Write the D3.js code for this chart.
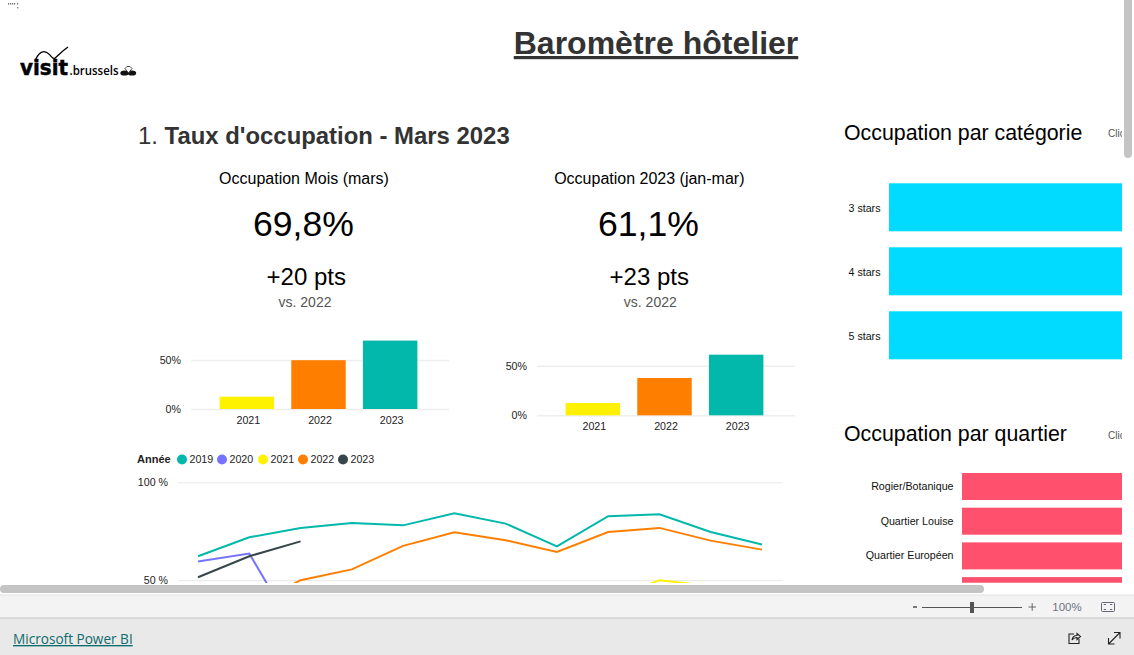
<!DOCTYPE html>
<html lang="fr">
<head>
<meta charset="utf-8">
<title>Baromètre hôtelier</title>
<script src="https://cdn.jsdelivr.net/npm/d3@7/dist/d3.min.js"></script>
<style>
html,body{margin:0;padding:0;background:#fff;overflow:hidden;width:1134px;height:655px}
svg{display:block}
text{font-family:"Liberation Sans",Arial,sans-serif;fill:#000}
.domain{display:none}
</style>
</head>
<body>
<svg id="c" width="1134" height="655" viewBox="0 0 1134 655"></svg>
<script>
const months = ["janv","févr","mars","avr","mai","juin","juil","août","sept","oct","nov","déc"];
const years = ["2019","2020","2021","2022","2023"];
const yearColors = ["#01b8aa","#7673ff","#fff200","#fe7f00","#374649"];
const occ2019 = [62.2,71.9,76.7,79.2,78,84.2,78.9,67.3,82.7,83.7,74.6,68.2];
const occ2020 = [59.5,63.6,19,2,3,8,17,21,24,14,7,13];
const occ2021 = [10,11,13,11,15,24,27,27,40,50,47,35];
const occ2022 = [28,36,50,55.5,67.5,74.5,70.4,64.4,74.6,76.7,70.2,65.6];
const occ2023 = [51.5,62.2,69.8];
const barYears = ["2021","2022","2023"];
const barColors = ["#fff200","#fe7f00","#01b8aa"];
const monthBars = [12.6,49.8,69.8];
const ytdBars = [12.4,37.6,61.1];
const starCats = ["3 stars","4 stars","5 stars"];
const starVals = [66,72,70];
const quartiers = ["Rogier/Botanique","Quartier Louise","Quartier Européen","Centre"];
const quartierVals = [74,72,71,70];

const svg = d3.select("#c");
const defs = svg.append("defs");
defs.append("clipPath").attr("id","clipMain").append("rect").attr("width",1134).attr("height",585);
defs.append("clipPath").attr("id","clipLine").append("rect").attr("width",1134).attr("height",583);
defs.append("clipPath").attr("id","clipRight").append("rect").attr("x",834).attr("width",288).attr("height",582.7);

function txt(g,x,y,s,size,opts={}){
  return g.append("text").attr("x",x).attr("y",y).attr("font-size",size)
    .attr("text-anchor",opts.anchor||"start").attr("font-weight",opts.weight||"normal")
    .style("fill",opts.fill||"#000").attr("text-decoration",opts.deco||null).text(s);
}

const main = svg.append("g").attr("clip-path","url(#clipMain)");

// tiny header specks
main.append("g").attr("fill","#777").selectAll("rect").data([8,10,12,14,17]).join("rect")
  .attr("x",d=>d).attr("y",3).attr("width",1.2).attr("height",1.6);
main.append("rect").attr("x",17).attr("y",7).attr("width",1.4).attr("height",1.4).attr("fill","#888");

// logo
const logo = main.append("g");
txt(logo,20,75,"visit",21,{weight:"bold"}).style("font-family",'"DejaVu Sans"').attr("textLength",48).attr("lengthAdjust","spacingAndGlyphs").style("stroke","#000").style("stroke-width",0.5);
txt(logo,69.5,75,".brussels",12,{weight:600}).style("font-family",'"Open Sans"').attr("textLength",49).attr("lengthAdjust","spacingAndGlyphs");
logo.append("path").attr("d",d3.line().curve(d3.curveBasis)([[35,61],[38,54],[45,50],[52,57],[54,60],[60,53],[68,47]]))
  .attr("fill","none").attr("stroke","#000").attr("stroke-width",1.3);
logo.append("g").attr("fill","#111").selectAll("ellipse").data([[124.5,73,4.2],[132,73,4.2]]).join("ellipse")
  .attr("cx",d=>d[0]).attr("cy",d=>d[1]).attr("rx",d=>d[2]).attr("ry",2.6);
logo.append("path").attr("d","M125 68.5L127 66.5H130L132 68.5L128.5 73Z").attr("fill","#fff").attr("stroke","#333").attr("stroke-width",0.9);

// titles
txt(main,656,54,"Baromètre hôtelier",32,{anchor:"middle",weight:"bold",fill:"#333",deco:"underline"});
const sec = main.append("text").attr("x",138).attr("y",144).attr("font-size",23.9).style("fill","#333");
sec.append("tspan").text("1. ");
sec.append("tspan").attr("font-weight","bold").text("Taux d'occupation - Mars 2023");

// KPI cards
const cards = [
  {cx:304,vx:303.5,dx:306.3,title:"Occupation Mois (mars)",val:"69,8%",delta:"+20 pts"},
  {cx:649.3,vx:648.5,dx:649.3,title:"Occupation 2023 (jan-mar)",val:"61,1%",delta:"+23 pts"}
];
cards.forEach(c=>{
  txt(main,c.cx,184,c.title,16,{anchor:"middle"});
  txt(main,c.vx,235.5,c.val,35.6,{anchor:"middle"});
  txt(main,c.dx,285,c.delta,24,{anchor:"middle"});
  txt(main,c.cx+1,307,"vs. 2022",14,{anchor:"middle",fill:"#555"});
});

// small bar charts
function barChart(vals,left,right,bandL,y0,y50){
  const g = main.append("g");
  const y = d3.scaleLinear().domain([0,50]).range([y0,y50]);
  const x = d3.scaleBand().domain(barYears).range([bandL,bandL+215]).paddingInner(0.24).paddingOuter(0.12);
  const ya = g.append("g").attr("transform",`translate(${left},0)`)
    .call(d3.axisLeft(y).tickValues([0,50]).tickSize(-(right-left)).tickPadding(10).tickFormat(d=>d+"%"));
  ya.selectAll("line").attr("stroke","#eeeeee").attr("stroke-width",1.5);
  ya.selectAll("text").attr("font-size",10.67).style("font-family",'"Liberation Sans"').style("fill","#222");
  g.selectAll("rect.b").data(vals).join("rect").attr("class","b")
    .attr("x",(d,i)=>x(barYears[i])).attr("width",x.bandwidth())
    .attr("y",d=>y(d)).attr("height",d=>y0-y(d)).attr("fill",(d,i)=>barColors[i]);
  const xa = g.append("g").attr("transform",`translate(1.5,${y0})`)
    .call(d3.axisBottom(x).tickSize(0).tickPadding(7));
  xa.selectAll("text").attr("font-size",10.67).style("font-family",'"Liberation Sans"').style("fill","#222");
}
barChart(monthBars,191,449,211,409,360);
barChart(ytdBars,537,795,557,415.3,365.7);

// legend
const leg = main.append("g");
txt(leg,137,463,"Année",11,{weight:"bold",fill:"#222"});
const legendX = [182,222,263,303,343];
years.forEach((yr,i)=>{
  leg.append("circle").attr("cx",legendX[i]).attr("cy",459.5).attr("r",5).attr("fill",yearColors[i]);
  txt(leg,legendX[i]+7.5,463,yr,10.67,{fill:"#222"});
});

// line chart
const lx = d3.scalePoint().domain(months).range([198,762]);
const ly = d3.scaleLinear().domain([0,100]).range([678,482.3]);
const lineAxis = main.append("g").attr("transform","translate(178,0)")
  .call(d3.axisLeft(ly).tickValues([50,100]).tickSize(-605).tickPadding(10).tickFormat(d=>d+" %"));
lineAxis.selectAll("line").attr("stroke","#e8e8e8");
lineAxis.selectAll("text").attr("font-size",10.67).style("font-family",'"Liberation Sans"').style("fill","#222");
const line = d3.line().x((d,i)=>lx(months[i])).y(d=>ly(d));
const linesG = main.append("g").attr("clip-path","url(#clipLine)");
[occ2019,occ2020,occ2021,occ2022,occ2023].forEach((s,i)=>{
  linesG.append("path").attr("d",line(s)).attr("fill","none")
    .attr("stroke",yearColors[i]).attr("stroke-width",2);
});

// right column
const right = svg.append("g").attr("clip-path","url(#clipRight)");
txt(right,844,140,"Occupation par catégorie",21.33);
txt(right,1108,137,"Clic",10,{fill:"#555"});
txt(right,844,441,"Occupation par quartier",21.33);
txt(right,1108,439,"Clic",10,{fill:"#555"});

function hbars(cats,vals,x0,yStart,step,h,color,fs,labelDy){
  const x = d3.scaleLinear().domain([0,50]).range([x0,x0+200]);
  const y = d3.scaleBand().domain(cats).range([yStart,yStart+step*cats.length-(step-h)]).paddingInner(1-h/step).paddingOuter(0);
  right.selectAll(null).data(vals).join("rect")
    .attr("x",x0).attr("y",(d,i)=>y(cats[i])).attr("height",y.bandwidth())
    .attr("width",d=>x(d)-x0).attr("fill",color);
  const a = right.append("g").attr("transform",`translate(${x0},${labelDy})`)
    .call(d3.axisLeft(y).tickSize(0).tickPadding(8.5));
  a.selectAll("text").attr("font-size",fs).style("font-family",'"Liberation Sans"').style("fill","#111");
}
hbars(starCats,starVals,889,183.3,64,48,"#00dbff",10.67,1);
hbars(quartiers,quartierVals,962,473,34.7,27,"#ff506e",10.67,0);

// scrollbars
svg.append("rect").attr("x",1124).attr("y",-10).attr("width",8).attr("height",168).attr("rx",4).attr("fill","#c4c4c4");
svg.append("rect").attr("x",0).attr("y",585).attr("width",984).attr("height",8).attr("rx",4).attr("fill","#c4c4c4");

// zoom toolbar
svg.append("rect").attr("y",595).attr("width",1134).attr("height",23).attr("fill","#f3f3f3");
svg.append("rect").attr("y",594.5).attr("width",1134).attr("height",1).attr("fill","#e2e2e2");
svg.append("rect").attr("y",618).attr("width",1134).attr("height",37).attr("fill","#e9e9e9");
svg.append("rect").attr("y",617.5).attr("width",1134).attr("height",1).attr("fill","#c8c8c8");
const tb = svg.append("g");
tb.append("rect").attr("x",913).attr("y",606).attr("width",4).attr("height",2).attr("fill","#777");
tb.append("rect").attr("x",922).attr("y",607).attr("width",100).attr("height",1).attr("fill","#555");
tb.append("rect").attr("x",970).attr("y",602).attr("width",4).attr("height",11).attr("fill","#555");
tb.append("path").attr("d","M1028.5 607H1036M1032.2 603.2V610.8").attr("stroke","#666").attr("fill","none");
txt(tb,1067,611,"100%",11.5,{anchor:"middle",fill:"#6e7580"});
tb.append("rect").attr("x",1101.5).attr("y",602.5).attr("width",13).attr("height",9).attr("rx",1).attr("fill","none").attr("stroke","#667");
tb.append("path").attr("d","M1104 605V604.5H1106M1112 605V604.5H1110M1104 609V609.5H1106M1112 609V609.5H1110").attr("stroke","#667").attr("fill","none");

// footer
txt(svg,13,644,"Microsoft Power BI",13.6,{fill:"#0f6c6c",deco:"underline"}).style("font-family",'"Open Sans"').attr("font-weight",500);
const ic = svg.append("g").attr("fill","none").attr("stroke","#222").attr("stroke-width",1.1);
ic.append("path").attr("d","M1074 634H1069V643.5H1079V639");
ic.append("path").attr("d","M1072 640C1072.5 636.5 1075 635.5 1077 635.5V633.5L1080.5 636.5L1077 639.5V637.5C1075 637.5 1073.5 638 1072 640Z");
ic.append("path").attr("d","M1108.5 644L1120 632.5M1114 632.5H1120V638.5M1108.5 638V644H1114.5");
</script>
</body>
</html>
